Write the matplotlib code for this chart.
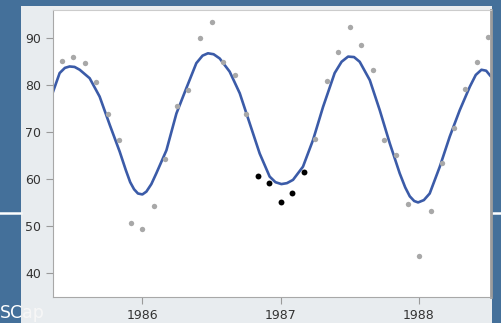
import matplotlib
matplotlib.use("Agg")
import matplotlib.pyplot as plt
import matplotlib.patches as patches
import pandas as pd

obs_month = ['1985-06', '1985-07', '1985-08', '1985-09', '1985-10', '1985-11', '1985-12',
             '1986-01', '1986-02', '1986-03', '1986-04', '1986-05', '1986-06', '1986-07',
             '1986-08', '1986-09', '1986-10',
             '1987-04', '1987-05', '1987-06', '1987-07', '1987-08', '1987-09', '1987-10',
             '1987-11', '1987-12', '1988-01', '1988-02', '1988-03', '1988-04', '1988-05',
             '1988-06', '1988-07']
obs_value = [85.2, 86.1, 84.8, 80.6, 73.8, 68.3, 50.8,
             49.4, 54.4, 64.3, 75.6, 78.9, 90.1, 93.4,
             85.0, 82.1, 74.0,
             68.6, 80.9, 87.0, 92.3, 88.6, 83.2, 68.3,
             65.1, 54.7, 43.7, 53.3, 63.4, 70.9, 79.2,
             85.0, 90.3]

# highlighted winter months (black)
hi_month = ['1986-11', '1986-12', '1987-01', '1987-02', '1987-03']
hi_value = [60.7, 59.3, 55.2, 57.2, 61.6]

# fitted seasonal curve (blue)
fit_year = [1985.354, 1985.402, 1985.440, 1985.474, 1985.510, 1985.547, 1985.619, 1985.691, 1985.764,
            1985.836, 1985.880, 1985.912, 1985.940, 1985.968, 1986.000, 1986.029, 1986.065, 1986.101,
            1986.174, 1986.246, 1986.318, 1986.390, 1986.435, 1986.474, 1986.515, 1986.559, 1986.631,
            1986.704, 1986.776, 1986.848, 1986.920, 1986.962, 1987.005, 1987.045, 1987.089, 1987.161,
            1987.234, 1987.306, 1987.390, 1987.440, 1987.487, 1987.530, 1987.571, 1987.644, 1987.716,
            1987.788, 1987.860, 1987.900, 1987.933, 1987.965, 1987.993, 1988.035, 1988.077, 1988.150,
            1988.222, 1988.294, 1988.367, 1988.410, 1988.451, 1988.485, 1988.516]
fit_value = [78.6, 82.6, 83.7, 84.0, 83.9, 83.3, 81.5, 77.6, 71.6,
             65.9, 62.0, 59.4, 57.9, 57.0, 56.8, 57.4, 59.0, 61.3,
             66.2, 74.0, 79.4, 84.7, 86.3, 86.8, 86.6, 85.7, 82.9,
             78.3, 71.9, 65.5, 60.6, 59.4, 59.0, 59.2, 59.9, 62.7,
             68.4, 75.4, 82.6, 85.0, 86.1, 86.0, 85.0, 81.1, 74.7,
             67.7, 61.3, 58.3, 56.4, 55.4, 55.1, 55.6, 57.0, 62.7,
             69.1, 74.7, 79.7, 82.2, 83.3, 83.1, 82.0]

x_ticks = [1986, 1987, 1988]
y_ticks = [40, 50, 60, 70, 80, 90]


def to_year(months):
    d = pd.to_datetime(months)
    return d.year + (d.month - 1) / 12.0


fig = plt.figure(figsize=(5.01, 3.23), dpi=100, facecolor='#44709a')

# slide text behind the panel
fig.text(0.0, 0.03, "SCap", color='white', fontsize=12.5, ha='left', va='center', zorder=-3)
# white rule lines on the slide
fig.add_artist(plt.Line2D([0, 0.042], [0.341, 0.341], color='white', lw=1.8,
                          transform=fig.transFigure, zorder=-3))
fig.add_artist(plt.Line2D([0.983, 1.0], [0.341, 0.341], color='white', lw=1.8,
                          transform=fig.transFigure, zorder=-3))

# light gray chart panel
panel = patches.Rectangle((0.042, 0), 0.941, 0.981, transform=fig.transFigure,
                          facecolor='#f6f6f6', edgecolor='none', alpha=0.93, zorder=-2)
fig.add_artist(panel)

ax = fig.add_axes([0.1058, 0.0805, 0.8742, 0.8885])
ax.set_facecolor('white')

ax.plot(fit_year, fit_value, color='#3b5ba8', lw=1.9, zorder=2, solid_joinstyle='round')
ax.scatter(to_year(obs_month), obs_value, s=15, color='#a8a8a8', lw=0, zorder=3)
ax.scatter(to_year(hi_month), hi_value, s=18, color='black', lw=0, zorder=3)

ax.set_xlim(1985.354, 1988.52)
ax.set_ylim(35, 96)
ax.set_xticks(x_ticks)
ax.set_yticks(y_ticks)
ax.tick_params(colors='#9a9a9a', labelcolor='#333333', labelsize=9, length=5, width=0.8)

for side in ['left', 'bottom']:
    ax.spines[side].set_color('#a8a8a8')
ax.spines['top'].set_color('#cccccc')
ax.spines['right'].set_color('#9c9c9c')
ax.spines['right'].set_linewidth(2)

fig.savefig('out.png', dpi=100, facecolor=fig.get_facecolor())
